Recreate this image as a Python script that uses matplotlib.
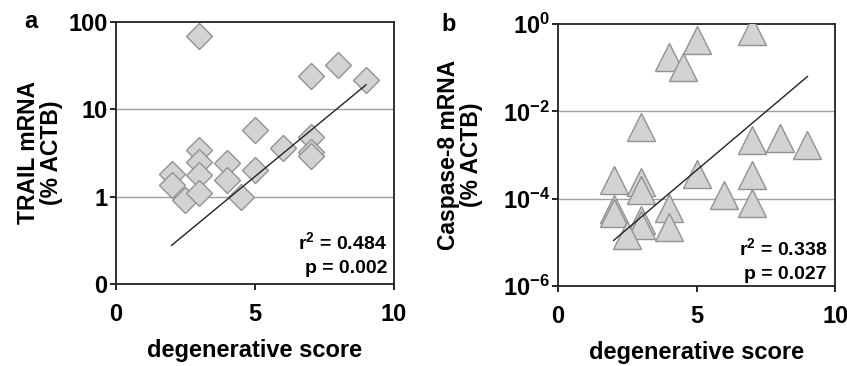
import matplotlib
matplotlib.use("Agg")
import matplotlib.pyplot as plt
from matplotlib.ticker import FixedLocator, FixedFormatter, NullLocator

plt.rcParams['font.family'] = ['Liberation Sans', 'DejaVu Sans']
plt.rcParams['font.weight'] = 'bold'
plt.rcParams['mathtext.fontset'] = 'custom'
plt.rcParams['mathtext.rm'] = 'Liberation Sans:bold'
plt.rcParams['mathtext.it'] = 'Liberation Sans:bold'
plt.rcParams['mathtext.bf'] = 'Liberation Sans:bold'
plt.rcParams['mathtext.default'] = 'rm'

# panel a: TRAIL mRNA vs degenerative score
trail_score = [3, 7, 8, 9, 5, 6, 7, 7, 7, 3, 3, 3, 2, 2, 2.5, 3, 4, 4, 4.5, 5]
trail_mrna = [68.5, 23.9, 32.5, 21.9, 5.85, 3.6, 4.8, 3.24, 2.9, 3.4, 2.5, 1.75,
              1.83, 1.35, 0.91, 1.1, 2.4, 1.54, 0.99, 2.0]
trail_fit_x = [2, 9]
trail_fit_y = [0.277, 19.1]

# panel b: Caspase-8 mRNA vs degenerative score
casp_score = [7, 5, 4, 4.5, 3, 7, 8, 9, 5, 7, 2, 3, 3, 6, 7, 2, 2, 4, 4, 3, 3, 2.5]
casp_mrna = [0.70, 0.44, 0.175, 0.105, 0.0044, 0.0022, 0.0025, 0.00166, 3.7e-4,
             3.5e-4, 2.7e-4, 2.4e-4, 1.6e-4, 1.2e-4, 7.9e-5, 5.9e-5, 4.7e-5,
             6.2e-5, 2.2e-5, 3.2e-5, 2.5e-5, 1.5e-5]
casp_fit_x = [2, 9]
casp_fit_y = [1.1e-5, 0.063]

fig = plt.figure(figsize=(8.47, 3.66), dpi=100)
ax1 = fig.add_axes([0.137, 0.224, 0.328, 0.716])
ax2 = fig.add_axes([0.659, 0.219, 0.327, 0.715])

face = '#d3d3d3'
edge = '#929292'

ax1.plot(trail_score, trail_mrna, 'D', ms=13.5, mfc=face, mec=edge, mew=1.0, zorder=3)
ax1.plot(trail_fit_x, trail_fit_y, color='#222222', lw=1.0, zorder=4)
ax1.set_yscale('log')
ax1.set_ylim(0.1, 100)
ax1.yaxis.set_major_locator(FixedLocator([0.1, 1, 10, 100]))
ax1.yaxis.set_major_formatter(FixedFormatter(['0', '1', '10', '100']))
for v in [1, 10]:
    ax1.axhline(v, color='#a0a0a0', lw=1.0, zorder=1)
ax1.set_ylabel('TRAIL mRNA\n(% ACTB)', fontsize=16.5, fontweight='bold', labelpad=4,
               linespacing=1.0)
ax1.text(-0.33, 1.0, 'a', transform=ax1.transAxes, fontsize=17, fontweight='bold',
         va='center', ha='left')
ax1.text(0.975, 0.16, 'r$^2$ = 0.484', transform=ax1.transAxes, fontsize=14,
         fontweight='bold', ha='right', va='center')
ax1.text(0.975, 0.06, 'p = 0.002', transform=ax1.transAxes, fontsize=14,
         fontweight='bold', ha='right', va='center')

ax2.plot(casp_score, casp_mrna, '^', ms=20, mfc=face, mec=edge, mew=1.0, zorder=3)
ax2.plot(casp_fit_x, casp_fit_y, color='#222222', lw=1.0, zorder=4)
ax2.set_yscale('log')
ax2.set_ylim(1e-6, 1)
ax2.yaxis.set_major_locator(FixedLocator([1e-6, 1e-4, 1e-2, 1]))
ax2.yaxis.set_major_formatter(FixedFormatter(['10$^{-6}$', '10$^{-4}$', '10$^{-2}$', '10$^{0}$']))
for v in [1e-4, 1e-2]:
    ax2.axhline(v, color='#a0a0a0', lw=1.0, zorder=1)
ax2.set_ylabel('Caspase-8 mRNA\n(% ACTB)', fontsize=16.5, fontweight='bold', labelpad=14,
               linespacing=1.0)
ax2.text(-0.42, 1.0, 'b', transform=ax2.transAxes, fontsize=17, fontweight='bold',
         va='center', ha='left')
ax2.text(0.97, 0.145, 'r$^2$ = 0.338', transform=ax2.transAxes, fontsize=14,
         fontweight='bold', ha='right', va='center')
ax2.text(0.97, 0.045, 'p = 0.027', transform=ax2.transAxes, fontsize=14,
         fontweight='bold', ha='right', va='center')

for ax in (ax1, ax2):
    ax.set_xlim(0, 10)
    ax.set_xticks([0, 5, 10])
    ax.yaxis.set_minor_locator(NullLocator())
    ax.set_xlabel('degenerative score', fontsize=17, fontweight='bold', labelpad=9)
    ax.tick_params(axis='x', direction='out', length=4, width=1.2, pad=10, labelsize=17)
    ax.tick_params(axis='y', direction='out', length=4, width=1.2, pad=2, labelsize=17)
    for s in ax.spines.values():
        s.set_linewidth(1.3)
        s.set_color('#222222')
    for lbl in ax.get_xticklabels() + ax.get_yticklabels():
        lbl.set_fontweight('bold')

fig.savefig('out.png', dpi=100)
